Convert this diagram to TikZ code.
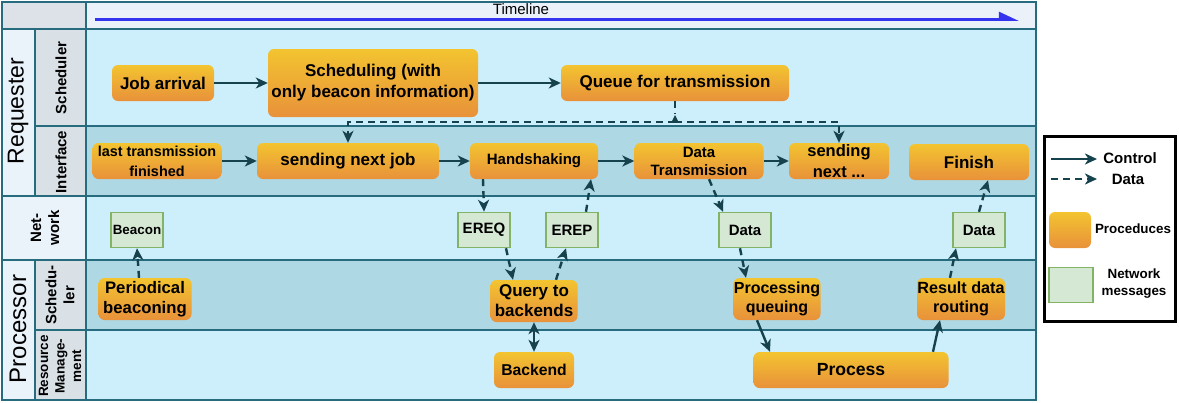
\documentclass[tikz,border=0pt]{standalone}
\usepackage{fontspec}
\setmainfont{Liberation Sans}
\usetikzlibrary{arrows.meta,calc}

\definecolor{laneLight}{RGB}{205,239,251}
\definecolor{laneDark}{RGB}{174,216,228}
\definecolor{headRight}{RGB}{234,241,248}
\definecolor{headLeft}{RGB}{220,226,232}
\definecolor{colOuter}{RGB}{234,242,250}
\definecolor{colInner}{RGB}{217,224,230}
\definecolor{gridLine}{RGB}{38,108,126}
\definecolor{procTop}{RGB}{243,196,48}
\definecolor{procBot}{RGB}{232,145,58}
\definecolor{msgFill}{RGB}{213,232,212}
\definecolor{msgLine}{RGB}{130,179,102}
\definecolor{arr}{RGB}{22,66,78}
\definecolor{timeBlue}{RGB}{52,52,238}

\newcommand{\fs}[2]{\fontsize{#1}{#2}\selectfont}

\tikzset{
  proc/.style={rounded corners=6pt, top color=procTop, bottom color=procBot,
    draw=none, font=\bfseries\fs{17}{21}, align=center,
    inner sep=0pt},
  msg/.style={draw=msgLine, fill=msgFill, line width=1.5pt,
    font=\bfseries\fs{15}{17}, minimum width=52pt,
    minimum height=35pt, inner sep=0pt},
  tipend/.style={-{Stealth[length=12pt,width=11pt,inset=3.5pt]}},
  ctrl/.style={draw=arr, line width=2.4pt, tipend},
  data/.style={ctrl, dash pattern=on 7pt off 5pt},
  grid/.style={draw=gridLine, line width=1.6pt},
  lanelabel/.style={rotate=90, font=\bfseries\fs{15}{18}, align=center},
  biglabel/.style={rotate=90, font=\fs{23}{26}},
  legendtext/.style={font=\bfseries\fs{15}{17}, align=center},
}

\begin{document}
\begin{tikzpicture}[x=1pt,y=-1pt]
\useasboundingbox (0,0) rectangle (1179,402);

% ---- lanes ----
\fill[headLeft]  (2,2) rectangle (86,29);
\fill[headRight] (86,2) rectangle (1036,29);
\fill[laneLight] (86,29) rectangle (1036,126);
\fill[laneDark]  (86,126) rectangle (1036,196);
\fill[laneLight] (86,196) rectangle (1036,260);
\fill[laneDark]  (86,260) rectangle (1036,330);
\fill[laneLight] (86,330) rectangle (1036,400);
\fill[colOuter]  (2,29) rectangle (35,196);
\fill[colInner]  (35,29) rectangle (86,196);
\fill[colOuter]  (2,196) rectangle (86,260);
\fill[colOuter]  (2,260) rectangle (35,400);
\fill[colInner]  (35,260) rectangle (86,400);

% ---- grid lines ----
\draw[grid] (2,2) rectangle (1036,400);
\draw[grid] (2,29) -- (1036,29);
\draw[grid] (35,126) -- (1036,126);
\draw[grid] (2,196) -- (1036,196);
\draw[grid] (2,260) -- (1036,260);
\draw[grid] (35,330) -- (1036,330);
\draw[grid] (86,2) -- (86,400);
\draw[grid] (35,29) -- (35,196);
\draw[grid] (35,260) -- (35,400);

% ---- timeline ----
\node[font=\fs{15}{17}] (tl) at (521,9) {Timeline};
\coordinate (tlA) at (95,19.5);
\coordinate (tlB) at (1019,19.5);
\draw[timeBlue, line width=2.8pt, -{Triangle[harpoon,length=17pt,width=15pt]}] (tlA) -- (tlB);

% ---- lane labels ----
\node[biglabel] (lReq) at (18,111) {Requester};
\node[biglabel, font=\fs{24}{26}] (lPro) at (18,329) {Processor};
\node[lanelabel] (lSch) at (61,78) {Scheduler};
\node[lanelabel] (lInt) at (61,162) {Interface};
\node[lanelabel] (lNet) at (45,228) {Net-\\work};
\node[lanelabel] (lPsc) at (60,295) {Schedu-\\ler};
\node[lanelabel, font=\bfseries\fs{13.5}{16.5}] (lRes) at (60,366) {Resource\\Manage-\\ment};

% ---- procedures ----
\node[proc, minimum width=102pt, minimum height=36pt] (job) at (163,83) {Job arrival};
\node[proc, minimum width=210pt, minimum height=68pt] (sched) at (373,83) {Scheduling (with\\only beacon information)};
\node[proc, minimum width=228pt, minimum height=36pt] (queue) at (675,83) {Queue for transmission};
\node[proc, minimum width=129pt, minimum height=36pt, font=\bfseries\fs{14.4}{20}] (last) at (157,161) {last transmission\\finished};
\node[proc, minimum width=182pt, minimum height=36pt] (send) at (348,161) {sending next job};
\node[proc, minimum width=128pt, minimum height=36pt, font=\bfseries\fs{15}{18}] (hand) at (534,161) {Handshaking};
\node[proc, minimum width=129pt, minimum height=36pt, font=\bfseries\fs{15}{18}] (dtx) at (699,161) {Data\\Transmission};
\node[proc, minimum width=100pt, minimum height=36pt, font=\bfseries\fs{16.5}{21}] (sendn) at (839,161) {sending\\next ...};
\node[proc, minimum width=120pt, minimum height=36pt] (fin) at (969,162) {Finish};
\node[proc, minimum width=93pt, minimum height=42pt, font=\bfseries\fs{16.7}{20}] (beac) at (145,299) {Periodical\\beaconing};
\node[proc, minimum width=87pt, minimum height=42pt, font=\bfseries\fs{17}{20}] (query) at (534,301) {Query to\\backends};
\node[proc, minimum width=80pt, minimum height=36pt, font=\bfseries\fs{15.7}{18}] (back) at (534,370) {Backend};
\node[proc, minimum width=87pt, minimum height=42pt, font=\bfseries\fs{16}{18.5}] (pq) at (777,299) {Processing\\queuing};
\node[proc, minimum width=88pt, minimum height=42pt, font=\bfseries\fs{16.2}{18.5}] (rdr) at (961,299) {Result data\\routing};
\node[proc, minimum width=195pt, minimum height=36pt, font=\bfseries\fs{17.6}{20}] (proc) at (851,370) {Process};

% ---- network messages ----
\node[msg, font=\bfseries\fs{13.4}{15}] (mBeacon) at (137,230) {Beacon};
\node[msg] (mEreq) at (484,230) {EREQ};
\node[msg] (mErep) at (572,230) {EREP};
\node[msg] (mData1) at (745,230) {Data};
\node[msg] (mData2) at (979,230) {Data};

% ---- control flow ----
\draw[ctrl] (job) -- (sched);
\draw[ctrl] (sched.east |- queue) -- (queue);
\draw[ctrl] (last) -- (send);
\draw[ctrl] (send) -- (hand);
\draw[ctrl] (hand) -- (dtx);
\draw[ctrl] (dtx) -- (sendn);
\draw[draw=arr, line width=2.4pt, {Stealth[length=12pt,width=11pt,inset=3.5pt]}-{Stealth[length=12pt,width=11pt,inset=3.5pt]}] (query) -- (back);
\draw[ctrl] ($(pq.south)+(-20,0)$) -- ($(proc.north)+(-81,0)$);
\draw[ctrl] ($(proc.north)+(82,0)$) -- ($(rdr.south)+(-21,0)$);

% ---- data flow ----
\coordinate (split) at (675,122);
\draw[draw=arr, line width=2.4pt, dash pattern=on 7pt off 5pt] (queue.south) -- ($(split)+(0,-8)$);
\fill[arr] ($(split)+(0,-7)$) -- ($(split)+(3.5,0)$) -- (split) -- ($(split)+(-3.5,0)$) -- cycle;
\draw[data] (split) -| (send.north);
\draw[data] (split) -| (sendn.north);
\draw[data] ($(beac.north)+(-6,0)$) -- (mBeacon.south);
\draw[data] ($(hand.south)+(-51,0)$) -- (mEreq.north);
\draw[data] ($(mEreq.south)+(22,0)$) -- ($(query.north)+(-21,0)$);
\draw[data] ($(query.north)+(22,0)$) -- ($(mErep.south)+(-6,0)$);
\draw[data] ($(mErep.north)+(14,0)$) -- ($(hand.south)+(57,0)$);
\draw[data] ($(dtx.south)+(10,0)$) -- ($(mData1.north)+(-22,0)$);
\draw[data] ($(mData1.south)+(-5,0)$) -- ($(pq.north)+(-31,0)$);
\draw[data] ($(rdr.north)+(-11,0)$) -- ($(mData2.south)+(-23,0)$);
\draw[data] (mData2.north) -- ($(fin.south)+(19,0)$);

% ---- legend ----
\node[draw=black, line width=3pt, minimum width=131pt, minimum height=185pt, inner sep=0pt] (legend) at (1110,229) {};
\coordinate (lc1) at (1051,159);
\coordinate (lc2) at (1097,159);
\coordinate (ld1) at (1051,179);
\coordinate (ld2) at (1097,179);
\draw[ctrl] (lc1) -- (lc2);
\draw[data] (ld1) -- (ld2);
\node[legendtext] (lgC) at (1130,158) {Control};
\node[legendtext] (lgD) at (1128,179) {Data};
\node[proc, minimum width=42pt, minimum height=36pt] (lgP) at (1070,230) {};
\node[legendtext, font=\bfseries\fs{13.4}{15}] (lgPt) at (1133,229) {Proceduces};
\node[msg, minimum width=44pt, minimum height=35pt] (lgM) at (1071,285) {};
\node[legendtext, font=\bfseries\fs{13.4}{17}] (lgMt) at (1134,284) {Network\\messages};
\end{tikzpicture}
\end{document}
